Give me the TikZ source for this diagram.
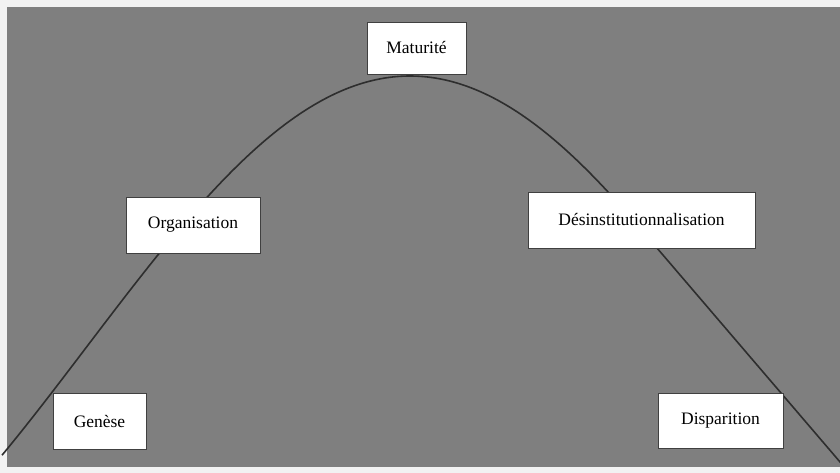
\documentclass[tikz,border=0pt]{standalone}
\usepackage{fontspec}
\setmainfont{Liberation Serif}
\definecolor{bggray}{HTML}{7F7F7F}
\definecolor{outer}{HTML}{F2F2F2}
\definecolor{curvecol}{HTML}{2E2E2E}
\definecolor{boxline}{HTML}{404040}
\begin{document}
\begin{tikzpicture}[x=1pt,y=-1pt,
  stage/.style={draw=boxline, line width=0.9pt, fill=white, inner sep=0pt,
    font=\fontsize{17.5}{20}\selectfont, text=black}]
\useasboundingbox (0,0) rectangle (840,473);
\fill[outer] (0,0) rectangle (840,473);
\fill[bggray] (7,7) rectangle (840,467);
% curve
\coordinate (tailend) at (842,464.3);
\draw[curvecol, line width=1.6pt]
  plot[domain=-408:0, samples=120] ({410+\x}, {76+271.2*(1-cos(2*\x/412*57.29578))});
\draw[curvecol, line width=1.6pt]
  plot[domain=0:225.8, samples=80] ({410+\x}, {76+271.2*(1-cos(2*\x/412*57.29578))}) -- (tailend);
% boxes
\node[stage, minimum width=93pt, minimum height=56pt] (genese) at (99.5,421) {Genèse};
\node[stage, minimum width=134pt, minimum height=56pt] (organisation) at (193,225) {Organisation};
\node[stage, minimum width=99pt, minimum height=52pt] (maturite) at (416.5,48) {Maturité};
\node[stage, minimum width=227pt, minimum height=56pt] (desinst) at (641.5,220) {Désinstitutionnalisation};
\node[stage, minimum width=125pt, minimum height=55pt] (disparition) at (720.5,420.5) {Disparition};
\end{tikzpicture}
\end{document}
